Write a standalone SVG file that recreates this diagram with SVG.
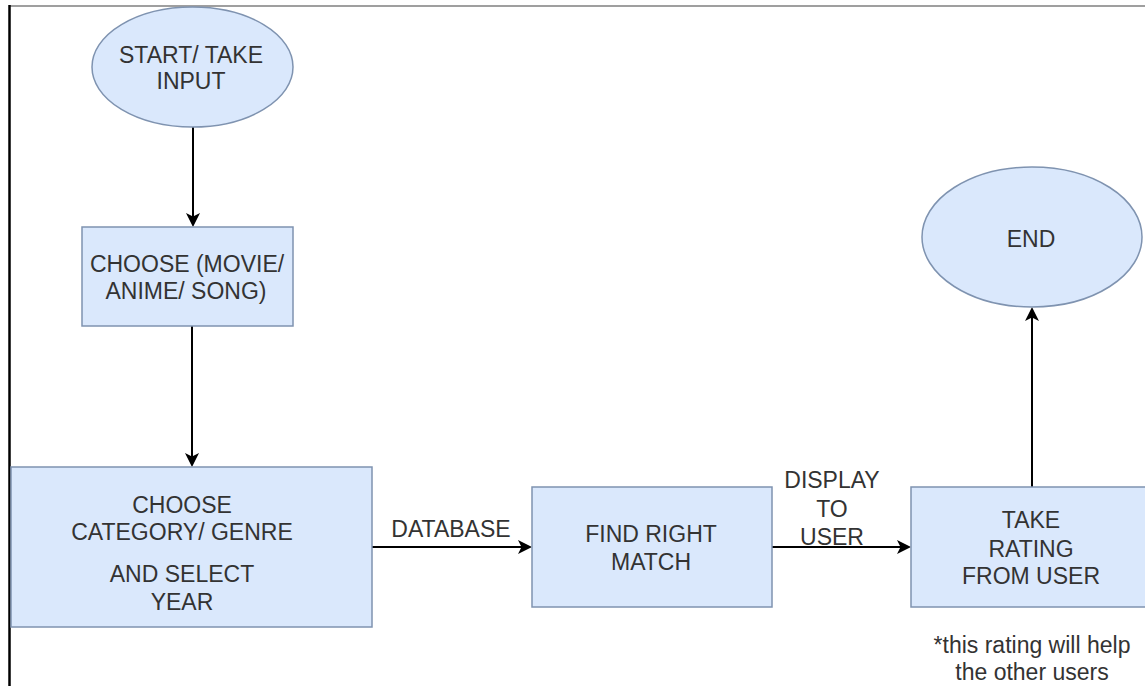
<svg xmlns="http://www.w3.org/2000/svg" width="1145" height="686" viewBox="0 0 1145 686">
  <style>
    .shape { fill: #dae8fc; stroke: #7f93b0; stroke-width: 1.5; }
    .lbl { font-family: "Liberation Sans", Arial, sans-serif; font-size: 23px; fill: #333333; text-anchor: middle; }
    .conn { stroke: #000000; stroke-width: 2; fill: none; marker-end: url(#arrow); }
  </style>
  <defs>
    <marker id="arrow" markerUnits="userSpaceOnUse" markerWidth="16" markerHeight="16" refX="10" refY="7" orient="auto" viewBox="0 0 16 14">
      <path d="M0,0 L14,7 L0,14 L3.5,7 Z" fill="#000000"/>
    </marker>
  </defs>
  <rect x="0" y="0" width="1145" height="686" fill="#ffffff"/>
  <g id="frame">
    <line x1="9" y1="6" x2="1145" y2="6" stroke="#7f7f7f" stroke-width="1.5"/>
    <line x1="9.5" y1="5" x2="9.5" y2="686" stroke="#000000" stroke-width="2.5"/>
  </g>
  <g id="connectors">
    <line class="conn" x1="193" y1="127" x2="193" y2="223"/>
    <line class="conn" x1="192" y1="326" x2="192" y2="463"/>
    <line class="conn" x1="372" y1="547" x2="528" y2="547"/>
    <line class="conn" x1="772" y1="547" x2="907" y2="547"/>
    <line class="conn" x1="1032" y1="487" x2="1032" y2="311"/>
    <text class="lbl" x="451" y="537">DATABASE</text>
    <text class="lbl" x="832" y="488">DISPLAY</text>
    <text class="lbl" x="832" y="517">TO</text>
    <text class="lbl" x="832" y="545">USER</text>
  </g>
  <g id="start">
    <ellipse class="shape" cx="192.5" cy="67" rx="100.5" ry="60"/>
    <text class="lbl" x="191" y="63">START/ TAKE</text>
    <text class="lbl" x="191" y="89">INPUT</text>
  </g>
  <g id="choose-type">
    <rect class="shape" x="82" y="227" width="211" height="99"/>
    <text class="lbl" x="187" y="272">CHOOSE (MOVIE/</text>
    <text class="lbl" x="186" y="299">ANIME/ SONG)</text>
  </g>
  <g id="choose-category">
    <rect class="shape" x="11" y="467" width="361" height="160"/>
    <text class="lbl" x="182" y="513">CHOOSE</text>
    <text class="lbl" x="182" y="540">CATEGORY/ GENRE</text>
    <text class="lbl" x="182" y="582">AND SELECT</text>
    <text class="lbl" x="182" y="610">YEAR</text>
  </g>
  <g id="find-match">
    <rect class="shape" x="532" y="487" width="240" height="120"/>
    <text class="lbl" x="651" y="542">FIND RIGHT</text>
    <text class="lbl" x="651" y="570">MATCH</text>
  </g>
  <g id="take-rating">
    <rect class="shape" x="911" y="487" width="241" height="120"/>
    <text class="lbl" x="1031" y="528">TAKE</text>
    <text class="lbl" x="1031" y="557">RATING</text>
    <text class="lbl" x="1031" y="584">FROM USER</text>
  </g>
  <g id="note">
    <text class="lbl" x="1032" y="653">*this rating will help</text>
    <text class="lbl" x="1032" y="680">the other users</text>
  </g>
  <g id="end">
    <ellipse class="shape" cx="1032" cy="237" rx="110" ry="70"/>
    <text class="lbl" x="1031" y="247">END</text>
  </g>
</svg>
